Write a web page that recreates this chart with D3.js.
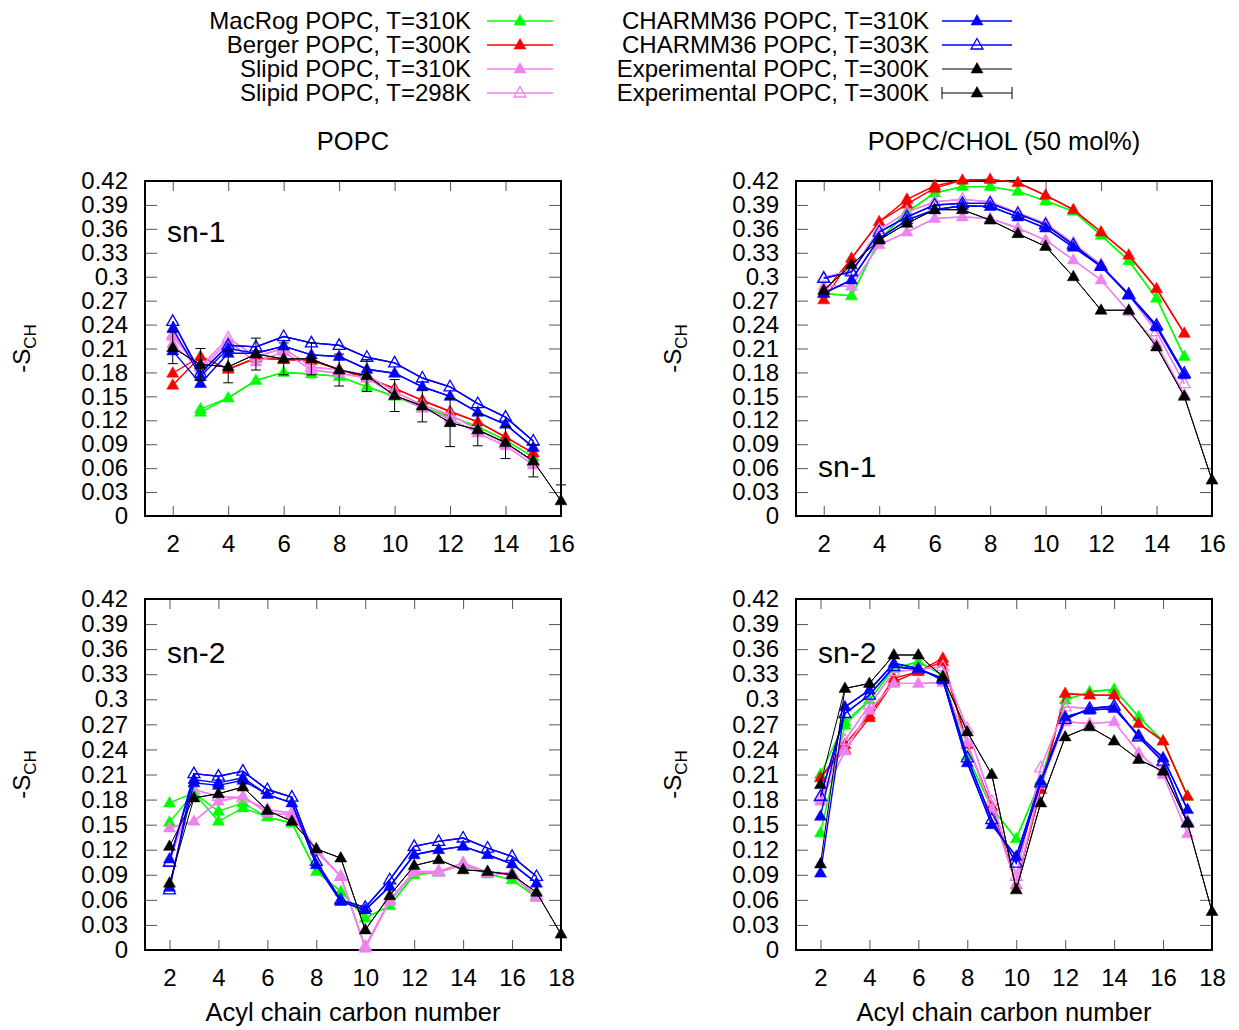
<!DOCTYPE html>
<html>
<head>
<meta charset="utf-8">
<title>POPC order parameters</title>
<script src="https://d3js.org/d3.v7.min.js"></script>
<style>
    body { margin: 0; background: white; }
    text { font-family: "Liberation Sans", Arial, sans-serif; }
</style>
</head>
<body>
<script>
// values start at carbon 2; a [a, b] pair means the two hydrogens of that carbon differ
let yTicks = [0, 0.03, 0.06, 0.09, 0.12, 0.15, 0.18, 0.21, 0.24, 0.27, 0.3, 0.33, 0.36, 0.39, 0.42];
let xTicksSn1 = [2, 4, 6, 8, 10, 12, 14, 16];
let xTicksSn2 = [2, 4, 6, 8, 10, 12, 14, 16, 18];

// POPC, sn-1
let macrogPopcSn1 = [null, [0.134, 0.130], 0.148, 0.170, 0.180, 0.178, 0.175, 0.162, 0.150, 0.136, 0.125, 0.112, 0.095, 0.074];
let bergerPopcSn1 = [[0.179, 0.164], 0.200, 0.184, 0.198, 0.196, 0.195, 0.184, 0.173, 0.160, 0.145, 0.131, 0.118, 0.099, 0.079];
let slipid310PopcSn1 = [[0.225, 0.216], 0.183, 0.219, 0.193, 0.206, 0.183, 0.179, 0.173, 0.152, 0.135, 0.122, 0.104, 0.088, 0.064];
let slipid298PopcSn1 = [0.227, 0.187, 0.223, 0.200, 0.210, 0.187, 0.183, 0.177, 0.156, 0.139, 0.127, 0.108, 0.091, 0.068];
let charmm310PopcSn1 = [[0.235, 0.207], [0.175, 0.166], [0.210, 0.204], 0.204, 0.213, 0.202, 0.200, 0.184, 0.179, 0.162, 0.150, 0.130, 0.115, 0.086];
let charmm303PopcSn1 = [0.244, 0.179, 0.214, 0.212, 0.225, 0.217, 0.214, 0.199, 0.192, 0.173, 0.162, 0.141, 0.124, 0.094];
let expPopcSn1 = [0.211, 0.190, 0.187, 0.203, 0.197, 0.197, 0.183, 0.176, 0.151, 0.138, 0.117, 0.108, 0.092, 0.069, 0.019];
let expErrPopcSn1 = [0.02, 0.02, 0.02, 0.02, 0.02, 0.02, 0.02, 0.02, 0.02, 0.02, 0.03, 0.02, 0.02, 0.02, 0.02];

// POPC/CHOL, sn-1
let macrogCholSn1 = [0.279, 0.276, 0.346, 0.381, 0.405, 0.413, 0.413, 0.407, 0.395, 0.382, 0.352, 0.320, 0.273, 0.200];
let bergerCholSn1 = [[0.280, 0.271], 0.323, 0.369, [0.397, 0.391], [0.414, 0.411], 0.421, 0.422, 0.418, 0.402, 0.384, 0.356, 0.327, 0.285, 0.229];
let slipid310CholSn1 = [0.288, 0.288, 0.340, 0.356, 0.373, 0.375, 0.373, 0.361, 0.346, 0.321, 0.296, 0.256, 0.216, 0.152];
let slipid298CholSn1 = [0.299, 0.308, 0.359, 0.381, 0.394, 0.397, 0.394, 0.380, 0.367, 0.342, 0.315, 0.277, 0.231, 0.166];
let charmm310CholSn1 = [0.279, 0.296, 0.348, 0.371, 0.384, 0.389, 0.388, 0.375, 0.361, 0.337, 0.313, 0.277, 0.237, 0.177];
let charmm303CholSn1 = [0.298, 0.306, 0.356, 0.375, 0.390, 0.392, 0.392, 0.379, 0.365, 0.340, 0.313, 0.278, 0.239, 0.179];
let expCholSn1 = [0.283, 0.315, 0.346, 0.367, 0.384, 0.384, 0.371, 0.354, 0.338, 0.300, 0.258, 0.258, 0.212, 0.150, 0.045];

// POPC, sn-2
let macrogPopcSn2 = [[0.176, 0.153], 0.188, [0.166, 0.154], [0.176, 0.170], 0.159, 0.152, 0.094, 0.070, 0.038, 0.053, 0.090, 0.093, 0.102, 0.091, 0.084, 0.063];
let slipid310PopcSn2 = [0.146, 0.154, 0.178, 0.184, 0.164, 0.162, 0.118, 0.088, 0.002, 0.058, 0.093, 0.093, 0.102, 0.092, 0.090, 0.063];
let slipid298PopcSn2 = [0.106, 0.192, 0.184, 0.182, 0.168, 0.164, 0.120, 0.088, 0.004, 0.060, 0.094, 0.094, 0.104, 0.093, 0.092, 0.065];
let charmm310PopcSn2 = [[0.109, 0.075], [0.204, 0.200], [0.200, 0.197], [0.206, 0.203], 0.186, 0.176, 0.102, 0.058, 0.048, 0.076, 0.114, 0.120, 0.124, 0.114, 0.103, 0.080];
let charmm303PopcSn2 = [[0.105, 0.072], 0.211, 0.208, 0.214, 0.192, 0.183, 0.106, 0.060, 0.051, 0.084, 0.124, 0.130, 0.134, 0.122, 0.112, 0.088];
let expPopcSn2 = [[0.124, 0.080], 0.182, 0.187, 0.195, 0.167, 0.154, 0.121, 0.110, 0.024, 0.065, 0.101, 0.108, 0.096, 0.094, 0.090, 0.069, 0.019];

// POPC/CHOL, sn-2
let macrogCholSn2 = [[0.210, 0.140], [0.273, 0.269], 0.299, 0.337, 0.345, 0.329, 0.232, 0.170, 0.133, 0.203, 0.299, 0.309, 0.312, 0.279, 0.250, 0.184];
let bergerCholSn2 = [0.206, [0.246, 0.240], [0.281, 0.278], [0.325, 0.321], 0.333, [0.349, 0.345], 0.246, 0.172, 0.078, 0.192, 0.307, 0.305, 0.305, 0.271, 0.250, 0.184];
let slipid310CholSn2 = [0.178, 0.238, 0.287, 0.319, 0.319, 0.320, 0.248, 0.168, 0.078, 0.198, 0.273, 0.271, 0.273, 0.236, 0.210, 0.139];
let slipid298CholSn2 = [0.182, 0.251, 0.293, 0.333, 0.336, 0.339, 0.265, 0.178, 0.088, 0.218, 0.291, 0.289, 0.291, 0.255, 0.224, 0.154];
let charmm310CholSn2 = [[0.160, 0.092], 0.291, 0.311, 0.343, 0.337, 0.323, 0.224, 0.150, 0.112, 0.202, 0.279, 0.287, 0.289, 0.257, 0.230, 0.168];
let charmm303CholSn2 = [0.184, 0.283, 0.305, 0.339, 0.336, 0.325, 0.230, 0.156, 0.104, 0.200, 0.276, 0.289, 0.292, 0.255, 0.226, 0.152];
let expCholSn2 = [[0.198, 0.103], 0.313, 0.319, 0.353, 0.353, 0.327, 0.261, 0.210, 0.072, 0.176, 0.255, 0.267, 0.250, 0.228, 0.214, 0.152, 0.046];

let seriesNames = ["MacRog POPC, T=310K", "Berger POPC, T=300K", "Slipid POPC, T=310K", "Slipid POPC, T=298K",
                   "CHARMM36 POPC, T=310K", "CHARMM36 POPC, T=303K", "Experimental POPC, T=300K", "Experimental POPC, T=300K"];
let seriesColors = ["#00ff00", "#ff0000", "#ee82ee", "#ee82ee", "#0000ff", "#0000ff", "#000000", "#000000"];
let seriesOpen = [false, false, false, true, false, true, false, false];

let panels = [
    { x0: 145, x1: 561, y0: 181, y1: 516, xMax: 16, xTicks: xTicksSn1, title: "POPC", label: "sn-1", labelY: 242,
      series: [macrogPopcSn1, bergerPopcSn1, slipid310PopcSn1, slipid298PopcSn1, charmm310PopcSn1, charmm303PopcSn1, null, expPopcSn1],
      err: expErrPopcSn1, xTitle: false },
    { x0: 796, x1: 1212, y0: 181, y1: 516, xMax: 16, xTicks: xTicksSn1, title: "POPC/CHOL (50 mol%)", label: "sn-1", labelY: 477,
      series: [macrogCholSn1, bergerCholSn1, slipid310CholSn1, slipid298CholSn1, charmm310CholSn1, charmm303CholSn1, expCholSn1, null],
      err: null, xTitle: false },
    { x0: 145, x1: 561, y0: 599, y1: 950, xMax: 18, xTicks: xTicksSn2, title: null, label: "sn-2", labelY: 663,
      series: [macrogPopcSn2, null, slipid310PopcSn2, slipid298PopcSn2, charmm310PopcSn2, charmm303PopcSn2, expPopcSn2, null],
      err: null, xTitle: true },
    { x0: 796, x1: 1212, y0: 599, y1: 950, xMax: 18, xTicks: xTicksSn2, title: null, label: "sn-2", labelY: 663,
      series: [macrogCholSn2, bergerCholSn2, slipid310CholSn2, slipid298CholSn2, charmm310CholSn2, charmm303CholSn2, expCholSn2, null],
      err: null, xTitle: true }
];

let width = 1239, height = 1030;
let svg = d3.select("body").append("svg")
    .attr("width", width)
    .attr("height", height);

let tri = "M0,-6.5L6,4L-6,4Z";

function drawMarker(g, x, y, i) {
    g.append("path")
        .attr("d", tri)
        .attr("transform", `translate(${x},${y})`)
        .attr("fill", seriesOpen[i] ? "none" : seriesColors[i])
        .attr("stroke", seriesColors[i])
        .attr("stroke-width", seriesOpen[i] ? 1.3 : 0.5);
}

// split a series into the two hydrogen lines
function splitLines(values) {
    let a = values.map((v, k) => ({ c: k + 2, v: Array.isArray(v) ? v[0] : v }));
    let b = values.map((v, k) => ({ c: k + 2, v: Array.isArray(v) ? v[1] : v }));
    return [a, b];
}

function drawPanel(p) {
    let x = d3.scaleLinear().domain([1, p.xMax]).range([p.x0, p.x1]);
    let y = d3.scaleLinear().domain([0, 0.42]).range([p.y1, p.y0]);
    let g = svg.append("g");

    let fmt = d => d === 0 ? "0" : d3.format(".2~f")(d);

    g.append("g").attr("transform", `translate(${p.x0},0)`)
        .call(d3.axisLeft(y).tickValues(yTicks).tickSize(-12).tickSizeOuter(0).tickPadding(17).tickFormat(fmt));
    g.append("g").attr("transform", `translate(${p.x1},0)`)
        .call(d3.axisRight(y).tickValues(yTicks).tickSize(-12).tickSizeOuter(0).tickFormat(""));
    g.append("g").attr("transform", `translate(0,${p.y1})`)
        .call(d3.axisBottom(x).tickValues(p.xTicks).tickSize(-10).tickSizeOuter(0).tickPadding(19));
    g.append("g").attr("transform", `translate(0,${p.y0})`)
        .call(d3.axisTop(x).tickValues(p.xTicks).tickSize(-10).tickSizeOuter(0).tickFormat(""));

    g.selectAll(".domain").remove();
    g.selectAll(".tick line").attr("stroke", "#555").attr("stroke-width", 1);
    g.selectAll(".tick text").attr("font-size", 24).attr("fill", "#000")
        .attr("font-family", "Liberation Sans, Arial, sans-serif");

    g.append("rect")
        .attr("x", p.x0).attr("y", p.y0)
        .attr("width", p.x1 - p.x0).attr("height", p.y1 - p.y0)
        .attr("fill", "none").attr("stroke", "#000").attr("stroke-width", 2);

    let line = d3.line().defined(d => d.v != null).x(d => x(d.c)).y(d => y(d.v));

    p.series.forEach((vals, i) => {
        if (!vals) return;
        let sg = g.append("g");
        let lw = i >= 6 ? 1 : 1.4;
        splitLines(vals).forEach(pts => {
            sg.append("path")
                .attr("d", line(pts))
                .attr("fill", "none")
                .attr("stroke", seriesColors[i])
                .attr("stroke-width", lw);
        });
        if (i === 7 && p.err) {
            vals.forEach((v, k) => {
                let cx = x(k + 2);
                let lo = y(Math.max(0, v - p.err[k])), hi = y(v + p.err[k]);
                sg.append("line").attr("x1", cx).attr("x2", cx).attr("y1", lo).attr("y2", hi)
                    .attr("stroke", "#000").attr("stroke-width", 1);
                [v - p.err[k], v + p.err[k]].forEach(e => {
                    if (e < 0) return;
                    sg.append("line").attr("x1", cx - 5).attr("x2", cx + 5).attr("y1", y(e)).attr("y2", y(e))
                        .attr("stroke", "#000").attr("stroke-width", 1);
                });
            });
        }
        vals.forEach((v, k) => {
            if (v == null) return;
            let list = Array.isArray(v) ? v : [v];
            list.forEach(val => drawMarker(sg, x(k + 2), y(val), i));
        });
    });

    g.append("text")
        .attr("x", p.x0 + 22).attr("y", p.labelY)
        .attr("font-size", 30)
        .text(p.label);

    let cx = (p.x0 + p.x1) / 2;
    if (p.title) {
        g.append("text").attr("x", cx).attr("y", 150)
            .attr("text-anchor", "middle").attr("font-size", 25.5)
            .text(p.title);
    }
    if (p.xTitle) {
        g.append("text").attr("x", cx).attr("y", 1021)
            .attr("text-anchor", "middle").attr("font-size", 25.5)
            .text("Acyl chain carbon number");
    }

    let ly = (p.y0 + p.y1) / 2;
    let lx = p.x0 - 115;
    let yl = g.append("text")
        .attr("transform", `translate(${lx},${ly}) rotate(-90)`)
        .attr("text-anchor", "middle")
        .attr("font-size", 24);
    yl.append("tspan").text("-S");
    yl.append("tspan").attr("font-size", 17).attr("dy", 6).text("CH");
}

panels.forEach(drawPanel);

// legend
let legendRows = [21, 45, 69, 93];
seriesNames.forEach((name, i) => {
    let col = i < 4 ? 0 : 1;
    let row = i % 4;
    let textX = col === 0 ? 471 : 929;
    let l0 = col === 0 ? 487 : 942, l1 = col === 0 ? 553 : 1012;
    let ly = legendRows[row];
    let lg = svg.append("g");
    lg.append("text")
        .attr("x", textX).attr("y", ly + 8)
        .attr("text-anchor", "end")
        .attr("font-size", 24)
        .text(name);
    lg.append("line").attr("x1", l0).attr("x2", l1).attr("y1", ly).attr("y2", ly)
        .attr("stroke", seriesColors[i]).attr("stroke-width", i >= 6 ? 1 : 1.4);
    if (i === 7) {
        [l0, l1].forEach(e => lg.append("line").attr("x1", e).attr("x2", e)
            .attr("y1", ly - 6).attr("y2", ly + 6).attr("stroke", "#000").attr("stroke-width", 1));
    }
    drawMarker(lg, (l0 + l1) / 2, ly, i);
});
</script>
</body>
</html>
